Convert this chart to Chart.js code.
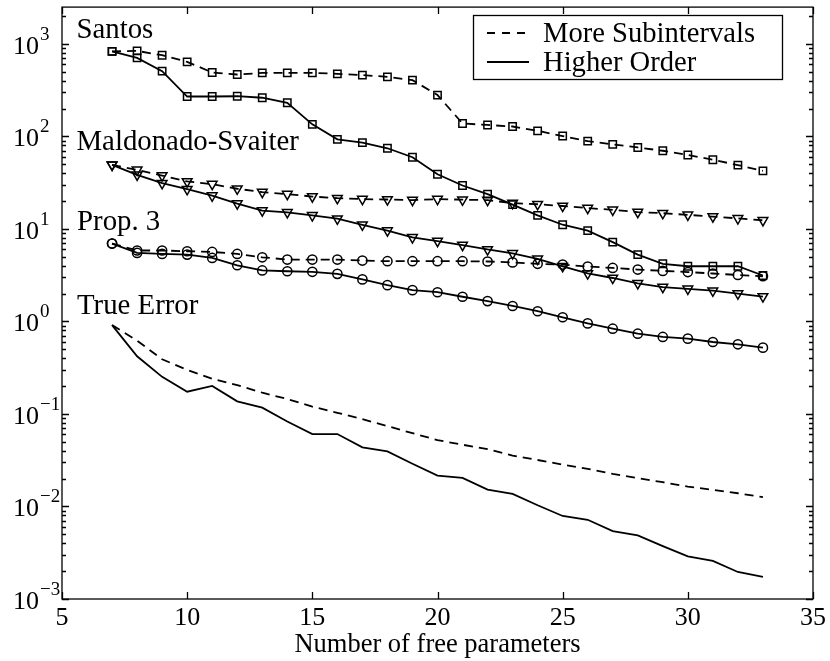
<!DOCTYPE html>
<html>
<head>
<meta charset="utf-8">
<script src="https://cdn.jsdelivr.net/npm/chart.js@4.4.1/dist/chart.umd.min.js"></script>
<style>
    html, body { margin: 0; padding: 0; background: #fff; }
    #wrap { width: 830px; height: 661px; }
</style>
</head>
<body>
<div id="wrap"><canvas id="chartErrores" width="830" height="661"></canvas></div>
<script>
// number of free parameters
const parametros = [7, 8, 9, 10, 11, 12, 13, 14, 15, 16, 17, 18, 19, 20,
    21, 22, 23, 24, 25, 26, 27, 28, 29, 30, 31, 32, 33];

// Santos bound
const santosSub = [830, 840, 755, 640, 491, 467, 486, 486, 486, 475, 460, 441, 406, 280,
    138, 133, 128, 115, 101, 89, 82, 76, 70, 63, 56, 49, 42.5];
const santosOrden = [830, 707, 508, 270, 270, 272, 262, 231, 135, 93, 85.7, 74.5, 59.6, 39,
    29.5, 23.8, 18.3, 14, 11.1, 9.6, 7.2, 5.28, 4.2, 3.95, 3.95, 3.95, 3.14];

// Maldonado-Svaiter bound
const maldonadoSub = [49.3, 43.5, 37.8, 32.6, 30.5, 27.2, 25, 23.8, 22.4, 21.5, 21, 20.8, 20.5, 21,
    20.7, 20.5, 19, 18.5, 17.7, 16.8, 16.1, 15.2, 14.8, 14.2, 13.6, 13.0, 12.4];
const maldonadoOrden = [49.3, 38.5, 31.2, 26.9, 22.9, 18.8, 15.8, 15.1, 14.0, 12.9, 11.1, 9.6, 8.1, 7.4,
    6.7, 6.0, 5.45, 4.75, 3.95, 3.3, 2.95, 2.58, 2.35, 2.25, 2.15, 2.0, 1.86];

// Prop. 3 bound
const prop3Sub = [6.95, 5.85, 5.85, 5.74, 5.64, 5.37, 4.94, 4.67, 4.67, 4.67, 4.55, 4.48, 4.48, 4.48,
    4.48, 4.45, 4.35, 4.2, 4.12, 3.92, 3.79, 3.64, 3.52, 3.42, 3.3, 3.18, 3.08];
const prop3Orden = [6.95, 5.5, 5.37, 5.28, 4.86, 4.05, 3.56, 3.49, 3.44, 3.27, 2.85, 2.47, 2.18, 2.07,
    1.85, 1.66, 1.47, 1.29, 1.11, 0.953, 0.835, 0.738, 0.68, 0.652, 0.6, 0.566, 0.521];

// true error
const errorSub = [0.914, 0.62, 0.39, 0.30, 0.24, 0.205, 0.17, 0.145, 0.12, 0.103, 0.088, 0.074, 0.062, 0.0522,
    0.0465, 0.0418, 0.0355, 0.0318, 0.0284, 0.0255, 0.0225, 0.0202, 0.0183, 0.0164, 0.0151, 0.0139, 0.0126];
const errorOrden = [0.914, 0.42, 0.252, 0.174, 0.201, 0.137, 0.117, 0.083, 0.0607, 0.0607, 0.0436, 0.0394, 0.029, 0.0216,
    0.0204, 0.0152, 0.0137, 0.0103, 0.0079, 0.00718, 0.00542, 0.00487, 0.00373, 0.00289, 0.00258, 0.00196, 0.00173];

const xTicks = [5, 10, 15, 20, 25, 30, 35];
const yDecadas = [-3, -2, -1, 0, 1, 2, 3];
const yMin = 1e-3;
const yMax = 2500;
const tituloX = 'Number of free parameters';
const leyenda = ['More Subintervals', 'Higher Order'];

// series labels written next to the curves (x, y in data units)
const etiquetas = [
    { texto: 'Santos', x: 5.58, y: 1160 },
    { texto: 'Maldonado-Svaiter', x: 5.58, y: 72 },
    { texto: 'Prop. 3', x: 5.6, y: 9.8 },
    { texto: 'True Error', x: 5.6, y: 1.19 }
];

const FUENTE = '"Liberation Serif", "Times New Roman", serif';
const DASH = [9, 6];

function serie(valores, tipo, discontinua) {
    return {
        data: parametros.map((p, i) => ({ x: p, y: valores[i] })),
        borderColor: '#000',
        borderWidth: 1.8,
        borderDash: discontinua ? DASH : [],
        backgroundColor: 'rgba(0,0,0,0)',
        pointStyle: tipo || false,
        pointRadius: tipo === 'rect' ? 5.2 : (tipo === 'triangle' ? 5.6 : 4.6),
        pointRotation: tipo === 'triangle' ? 180 : 0,
        pointBorderColor: '#000',
        pointBackgroundColor: 'rgba(0,0,0,0)',
        pointBorderWidth: 1.5,
        tension: 0,
        fill: false
    };
}

const marcoPlugin = {
    id: 'marco',
    afterDraw(chart) {
        const ctx = chart.ctx;
        const area = chart.chartArea;
        const sx = chart.scales.x;
        const sy = chart.scales.y;
        ctx.save();
        ctx.strokeStyle = '#000';
        ctx.fillStyle = '#000';
        ctx.lineWidth = 1.3;
        ctx.setLineDash([]);

        // frame
        ctx.strokeRect(area.left, area.top, area.right - area.left, area.bottom - area.top);

        // x ticks, bottom and top
        ctx.beginPath();
        xTicks.forEach(v => {
            const px = Math.round(sx.getPixelForValue(v)) + 0.5;
            ctx.moveTo(px, area.bottom);
            ctx.lineTo(px, area.bottom - 7);
            ctx.moveTo(px, area.top);
            ctx.lineTo(px, area.top + 7);
        });
        // y ticks, major and minor
        yDecadas.forEach(d => {
            for (let k = 1; k <= 9; k++) {
                const v = k * Math.pow(10, d);
                if (v < yMin || v > yMax) continue;
                const py = Math.round(sy.getPixelForValue(v)) + 0.5;
                const largo = k === 1 ? 7 : 4;
                ctx.moveTo(area.left, py);
                ctx.lineTo(area.left + largo, py);
                ctx.moveTo(area.right, py);
                ctx.lineTo(area.right - largo, py);
            }
        });
        ctx.stroke();

        // y tick labels 10^d
        yDecadas.forEach(d => {
            const py = sy.getPixelForValue(Math.pow(10, d));
            ctx.font = '26px ' + FUENTE;
            ctx.textAlign = 'right';
            ctx.textBaseline = 'alphabetic';
            ctx.fillText('10', area.left - 23, py + 10);
            ctx.font = '19px ' + FUENTE;
            ctx.textAlign = 'left';
            ctx.fillText(d < 0 ? '\u2212' + Math.abs(d) : String(d), area.left - 22, py - 4);
        });

        // series names
        ctx.font = '28.8px ' + FUENTE;
        ctx.textAlign = 'left';
        ctx.textBaseline = 'alphabetic';
        etiquetas.forEach(e => {
            ctx.fillText(e.texto, sx.getPixelForValue(e.x), sy.getPixelForValue(e.y));
        });

        // legend box
        const lx = 473.5, ly = 15.5, lw = 309, lh = 64;
        ctx.fillStyle = '#fff';
        ctx.fillRect(lx, ly, lw, lh);
        ctx.strokeRect(lx, ly, lw, lh);
        ctx.fillStyle = '#000';
        ctx.lineWidth = 1.8;
        ctx.beginPath();
        ctx.setLineDash([8, 7]);
        ctx.moveTo(487, 33);
        ctx.lineTo(529, 33);
        ctx.stroke();
        ctx.beginPath();
        ctx.setLineDash([]);
        ctx.moveTo(487, 62);
        ctx.lineTo(529, 62);
        ctx.stroke();
        ctx.font = '28.6px ' + FUENTE;
        ctx.fillText(leyenda[0], 543, 42);
        ctx.fillText(leyenda[1], 543, 71);
        ctx.restore();
    }
};

const ctx = document.getElementById('chartErrores').getContext('2d');
new Chart(ctx, {
    type: 'line',
    data: {
        datasets: [
            serie(santosSub, 'rect', true),
            serie(santosOrden, 'rect', false),
            serie(maldonadoSub, 'triangle', true),
            serie(maldonadoOrden, 'triangle', false),
            serie(prop3Sub, 'circle', true),
            serie(prop3Orden, 'circle', false),
            serie(errorSub, null, true),
            serie(errorOrden, null, false)
        ]
    },
    options: {
        responsive: false,
        animation: false,
        layout: { padding: { top: 5, right: 14, left: 0, bottom: 0 } },
        plugins: {
            legend: { display: false },
            tooltip: { enabled: false }
        },
        scales: {
            x: {
                type: 'linear',
                min: 5,
                max: 35,
                afterBuildTicks: s => { s.ticks = xTicks.map(v => ({ value: v })); },
                ticks: {
                    color: '#000',
                    font: { family: FUENTE, size: 26 },
                    padding: 4,
                    maxRotation: 0
                },
                grid: { display: false, drawTicks: false },
                border: { display: false },
                title: {
                    display: true,
                    text: tituloX,
                    color: '#000',
                    font: { family: FUENTE, size: 26.5 },
                    padding: 0
                },
                afterFit: s => { s.height = 62; }
            },
            y: {
                type: 'logarithmic',
                min: yMin,
                max: yMax,
                ticks: { display: false },
                grid: { display: false },
                border: { display: false },
                afterFit: s => { s.width = 62; }
            }
        }
    },
    plugins: [marcoPlugin]
});
</script>
</body>
</html>
